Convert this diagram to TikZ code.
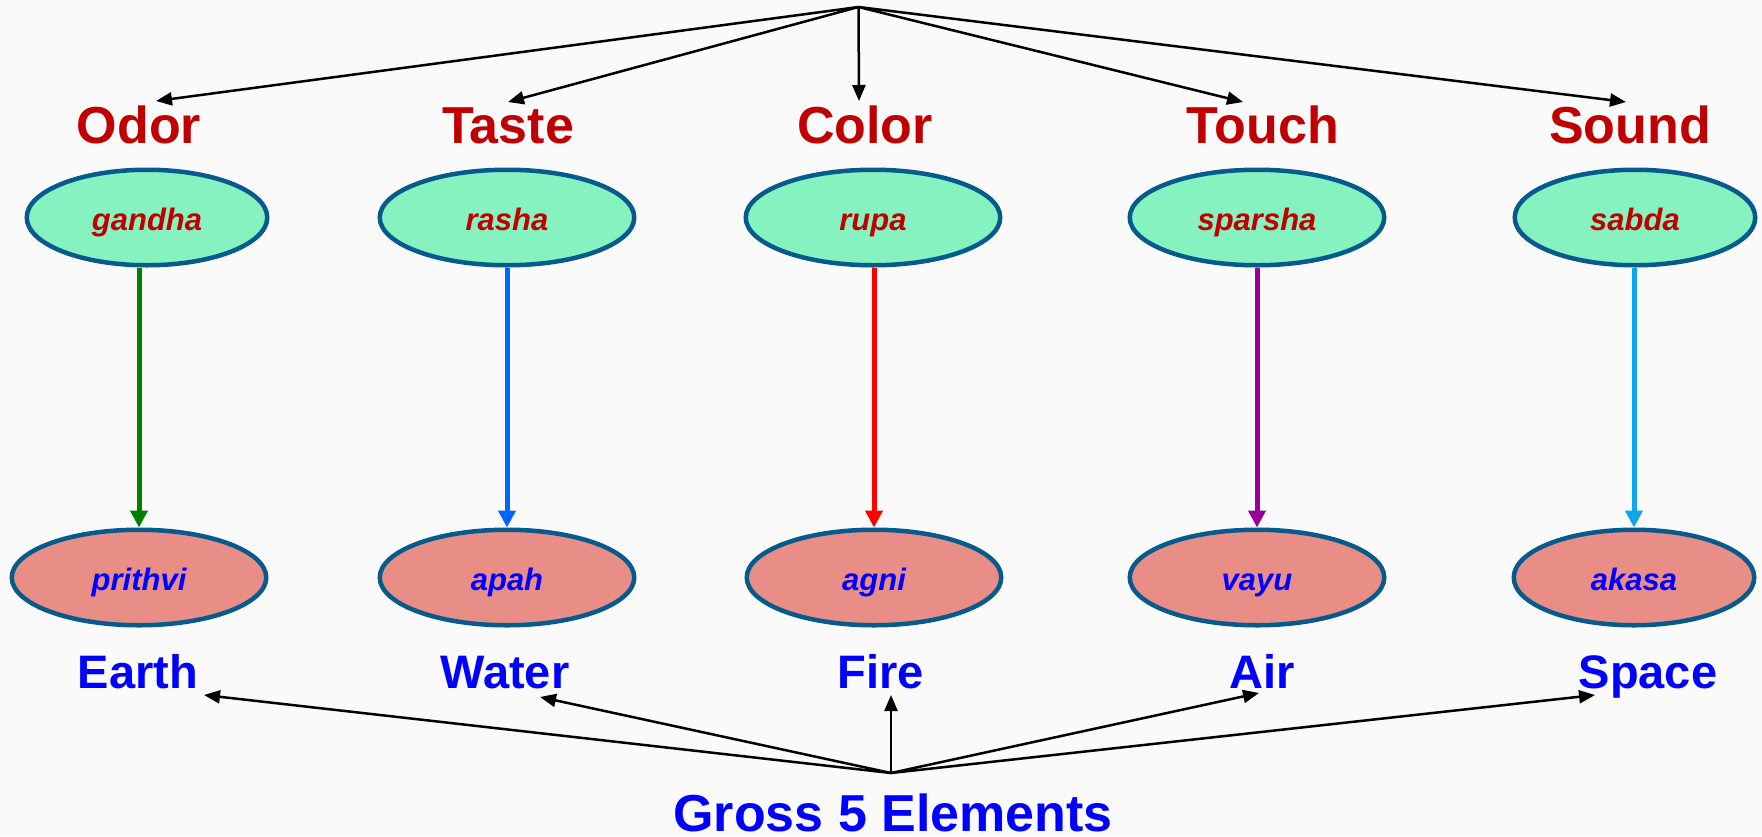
\documentclass[tikz,border=0pt]{standalone}
\usepackage{fontspec}
\setmainfont{Liberation Sans}
\usetikzlibrary{shapes.geometric,arrows.meta}
\definecolor{bg}{HTML}{FAFAFA}
\definecolor{mint}{HTML}{86F2C0}
\definecolor{salmon}{HTML}{E88E87}
\definecolor{rim}{HTML}{065A8C}
\definecolor{dred}{HTML}{C00000}
\definecolor{bblue}{HTML}{0000FF}
\definecolor{lgreen}{HTML}{008000}
\definecolor{lblue}{HTML}{0066FF}
\definecolor{lred}{HTML}{FF0000}
\definecolor{lpurple}{HTML}{990099}
\definecolor{lsky}{HTML}{10A5E8}
\begin{document}
\begin{tikzpicture}[x=1pt,y=-1pt,
  sense/.style={font=\fontsize{52}{60}\selectfont\bfseries, text=dred, anchor=base, inner sep=0pt},
  elem/.style={sense, text=bblue, font=\fontsize{47}{56}\selectfont\bfseries},
  title/.style={sense, text=bblue},
  bubble/.style={ellipse, draw=rim, line width=4.5pt, minimum height=95.5pt, minimum width=254.5pt,
    font=\fontsize{31}{36}\selectfont\bfseries\itshape, inner sep=0pt, text height=28pt, text depth=2pt},
  upper/.style={bubble, fill=mint, text=dred},
  lower/.style={bubble, fill=salmon, text=bblue},
  narrow/.style={minimum width=240.5pt},
  link/.style={-{Triangle[length=17pt,width=17pt]}, line width=5pt},
  fan/.style={-{Triangle[length=16pt,width=13pt]}, line width=2.5pt, draw=black}
]
\fill[bg] (0,0) rectangle (1762,836);
\useasboundingbox (0,0) rectangle (1762,836);

% top labels
\coordinate (top) at (858.5,7);
\node[sense] (odor) at (139,143) {Odor};
\node[sense] (taste) at (508,143) {Taste};
\node[sense] (color) at (865,143) {Color};
\node[sense] (touch) at (1263,143) {Touch};
\node[sense] (sound) at (1630,143) {Sound};

\draw[fan] (top) -- ([xshift=17pt,yshift=42pt]odor.base);
\draw[fan] (top) -- ([xshift=0pt,yshift=41pt]taste.base);
\draw[fan] (top) -- ([xshift=-6pt,yshift=42pt]color.base);
\draw[fan] (top) -- ([xshift=-20pt,yshift=41pt]touch.base);
\draw[fan] (top) -- ([xshift=-4pt,yshift=41pt]sound.base);

% upper ellipses
\node[upper, narrow] (u1) at (147,217.5) {gandha};
\node[upper] (u2) at (507,217.5) {rasha};
\node[upper] (u3) at (873,217.5) {rupa};
\node[upper] (u4) at (1257,217.5) {sparsha};
\node[upper, narrow] (u5) at (1635,217.5) {sabda};

% lower ellipses
\node[lower] (l1) at (139,577.5) {prithvi};
\node[lower] (l2) at (507,577.5) {apah};
\node[lower] (l3) at (874,577.5) {agni};
\node[lower] (l4) at (1257,577.5) {vayu};
\node[lower, narrow] (l5) at (1634,577.5) {akasa};

\draw[link, lgreen] (u1.south -| l1.north) -- (l1.north);
\draw[link, lblue] (u2.south -| l2.north) -- (l2.north);
\draw[link, lred] (u3.south -| l3.north) -- (l3.north);
\draw[link, lpurple] (u4.south -| l4.north) -- (l4.north);
\draw[link, lsky] (u5.south -| l5.north) -- (l5.north);

% bottom labels
\node[elem] (earth) at (138,688) {Earth};
\node[elem] (water) at (505,688) {Water};
\node[elem] (fire) at (881,688) {Fire};
\node[elem] (air) at (1262,688) {Air};
\node[elem] (space) at (1648,688) {Space};
\node[title] (gross) at (893,831) {Gross 5 Elements};
\coordinate (bot) at (891,773);

\draw[fan] (bot) -- ([xshift=66pt,yshift=-7pt]earth.base);
\draw[fan] (bot) -- ([xshift=35pt,yshift=-9pt]water.base);
\draw[fan] (bot) -- ([xshift=10pt,yshift=-7pt]fire.base);
\draw[fan] (bot) -- ([xshift=-3pt,yshift=-5pt]air.base);
\draw[fan] (bot) -- ([xshift=-53pt,yshift=-7pt]space.base);
\end{tikzpicture}
\end{document}
